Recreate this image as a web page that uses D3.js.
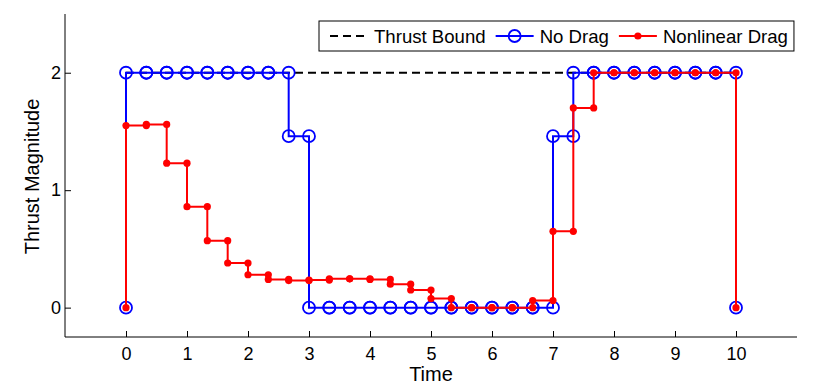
<!DOCTYPE html>
<html>
<head>
<meta charset="utf-8">
<script src="https://cdn.jsdelivr.net/npm/d3@7"></script>
<style>
  body { margin: 0; background: #fff; }
  svg text { font-family: Arial, "Liberation Sans", Helvetica, sans-serif; }
</style>
</head>
<body>
<script>
// time grid (switching times) and thrust on each interval
var timeGrid = [0, 0.333, 0.667, 1, 1.333, 1.667, 2, 2.333, 2.667, 3, 3.333, 3.667, 4, 4.333, 4.667,
                5, 5.333, 5.667, 6, 6.333, 6.667, 7, 7.333, 7.667, 8, 8.333, 8.667, 9, 9.333, 9.667, 10];
var noDrag = [2, 2, 2, 2, 2, 2, 2, 2, 1.46, 0, 0, 0, 0, 0, 0, 0, 0, 0, 0, 0, 0, 1.46, 2, 2, 2, 2, 2, 2, 2, 2];
var nonlinearDrag = [1.55, 1.56, 1.23, 0.86, 0.57, 0.38, 0.28, 0.24, 0.23, 0.235,
                     0.245, 0.245, 0.24, 0.20, 0.15, 0.077, 0, 0, 0, 0,
                     0.06, 0.65, 1.70, 2, 2, 2, 2, 2, 2, 2];
var boundTime = [0, 10];
var boundValue = [2, 2];
var xTicks = [0, 1, 2, 3, 4, 5, 6, 7, 8, 9, 10];
var yTicks = [0, 1, 2];
var legendNames = ["Thrust Bound", "No Drag", "Nonlinear Drag"];

function draw() {
    var width = 814, height = 391;
    var pLeft = 65, pRight = 797, pTop = 14, pBottom = 337;

    var svg = d3.select("body").append("svg")
        .attr("width", width)
        .attr("height", height);

    var x = d3.scaleLinear().domain([-1, 11]).range([pLeft, pRight]);
    var y = d3.scaleLinear().domain([-0.25, 2.5]).range([pBottom, pTop]);

    // stairs: start at 0, hold each value over its interval, drop back to 0
    function stairs(u) {
        var pts = [[timeGrid[0], 0]];
        for (var k = 0; k < u.length; k++) {
            pts.push([timeGrid[k], u[k]]);
            pts.push([timeGrid[k + 1], u[k]]);
        }
        pts.push([timeGrid[timeGrid.length - 1], 0]);
        return pts;
    }

    var line = d3.line()
        .x(function(d){ return x(d[0]); })
        .y(function(d){ return y(d[1]); });

    // axes (left and bottom only, ticks inward)
    var xAxis = svg.append("g")
        .attr("transform", "translate(0," + pBottom + ")")
        .call(d3.axisBottom(x).tickValues(xTicks).tickSizeInner(-6).tickSizeOuter(0).tickPadding(10).tickFormat(d3.format("d")));
    var yAxis = svg.append("g")
        .attr("transform", "translate(" + pLeft + ",0)")
        .call(d3.axisLeft(y).tickValues(yTicks).tickSizeInner(-6).tickSizeOuter(0).tickPadding(4).tickFormat(d3.format("d")));

    [xAxis, yAxis].forEach(function(a){
        a.select(".domain").attr("stroke", "#000").attr("stroke-width", 1);
        a.selectAll(".tick line").attr("stroke", "#000");
        a.selectAll(".tick text")
            .attr("fill", "#000")
            .style("font-size", "18px");
    });
    xAxis.select(".domain").attr("d", "M" + pLeft + ",0H" + pRight);
    yAxis.select(".domain").attr("d", "M0," + pTop + "V" + pBottom);

    svg.append("text")
        .attr("x", x(5))
        .attr("y", 381)
        .attr("text-anchor", "middle")
        .style("font-size", "20px")
        .text("Time");

    svg.append("text")
        .attr("transform", "translate(39," + ((pTop + pBottom) / 2 + 1) + ") rotate(-90)")
        .attr("text-anchor", "middle")
        .style("font-size", "20px")
        .text("Thrust Magnitude");

    // thrust bound
    svg.append("path")
        .attr("d", line(boundTime.map(function(t, i){ return [t, boundValue[i]]; })))
        .attr("fill", "none")
        .attr("stroke", "#000")
        .attr("stroke-width", 2)
        .attr("stroke-dasharray", "8,5");

    // no drag
    var blueData = stairs(noDrag);
    svg.append("path")
        .attr("d", line(blueData))
        .attr("fill", "none")
        .attr("stroke", "#0000ff")
        .attr("stroke-width", 2);
    svg.append("g").selectAll("circle")
        .data(blueData)
        .enter()
        .append("circle")
        .attr("cx", function(d){ return x(d[0]); })
        .attr("cy", function(d){ return y(d[1]); })
        .attr("r", 6)
        .attr("fill", "none")
        .attr("stroke", "#0000ff")
        .attr("stroke-width", 1.8);

    // nonlinear drag
    var redData = stairs(nonlinearDrag);
    svg.append("path")
        .attr("d", line(redData))
        .attr("fill", "none")
        .attr("stroke", "#ff0000")
        .attr("stroke-width", 2);
    svg.append("g").selectAll("circle")
        .data(redData)
        .enter()
        .append("circle")
        .attr("cx", function(d){ return x(d[0]); })
        .attr("cy", function(d){ return y(d[1]); })
        .attr("r", 3.6)
        .attr("fill", "#ff0000");

    // legend
    var legend = svg.append("g");
    var box = legend.append("rect")
        .attr("fill", "#fff")
        .attr("stroke", "#000")
        .attr("stroke-width", 1);
    var lx = 319, ly = 36;
    var cursor = lx + 11;
    legendNames.forEach(function(name, i){
        var ln = legend.append("line")
            .attr("x1", cursor).attr("x2", cursor + 38)
            .attr("y1", ly).attr("y2", ly)
            .attr("stroke-width", 2);
        if (i == 0) {
            ln.attr("stroke", "#000").attr("stroke-dasharray", "8,5");
        } else if (i == 1) {
            ln.attr("stroke", "#0000ff");
            legend.append("circle")
                .attr("cx", cursor + 19).attr("cy", ly).attr("r", 6)
                .attr("fill", "none").attr("stroke", "#0000ff").attr("stroke-width", 1.8);
        } else {
            ln.attr("stroke", "#ff0000");
            legend.append("circle")
                .attr("cx", cursor + 19).attr("cy", ly).attr("r", 3.6)
                .attr("fill", "#ff0000");
        }
        var t = legend.append("text")
            .attr("x", cursor + 44)
            .attr("y", ly)
            .attr("dy", "0.36em")
            .style("font-size", "18.6px")
            .text(name);
        cursor = cursor + 44 + t.node().getComputedTextLength() + 10;
    });
    box.attr("x", lx).attr("y", 21)
        .attr("width", cursor - 10 + 6 - lx)
        .attr("height", 30);
}
draw();
</script>
</body>
</html>
